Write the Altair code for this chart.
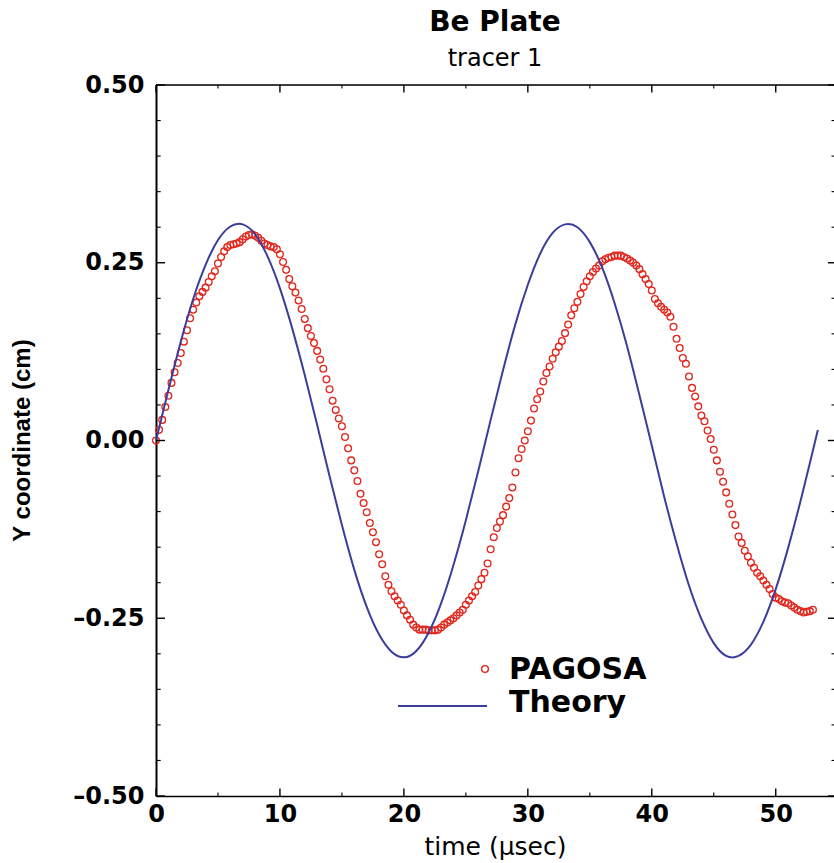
import altair as alt
import pandas as pd

# ---------------- data ----------------
pagosa_t = [
    0.0, 0.25, 0.5, 0.75, 1.0, 1.25, 1.5, 1.75, 2.0, 2.25, 2.5, 2.75,
    3.0, 3.25, 3.5, 3.75, 4.0, 4.25, 4.5, 4.75, 5.0, 5.25, 5.5, 5.75,
    6.0, 6.25, 6.5, 6.75, 7.0, 7.25, 7.5, 7.75, 8.0, 8.25, 8.5, 8.75,
    9.0, 9.25, 9.5, 9.75, 10.0, 10.25, 10.5, 10.75, 11.0, 11.25, 11.5, 11.75,
    12.0, 12.25, 12.5, 12.75, 13.0, 13.25, 13.5, 13.75, 14.0, 14.25, 14.5, 14.75,
    15.0, 15.25, 15.5, 15.75, 16.0, 16.25, 16.5, 16.75, 17.0, 17.25, 17.5, 17.75,
    18.0, 18.25, 18.5, 18.75, 19.0, 19.25, 19.5, 19.75, 20.0, 20.25, 20.5, 20.75,
    21.0, 21.25, 21.5, 21.75, 22.0, 22.25, 22.5, 22.75, 23.0, 23.25, 23.5, 23.75,
    24.0, 24.25, 24.5, 24.75, 25.0, 25.25, 25.5, 25.75, 26.0, 26.25, 26.5, 26.75,
    27.0, 27.25, 27.5, 27.75, 28.0, 28.25, 28.5, 28.75, 29.0, 29.25, 29.5, 29.75,
    30.0, 30.25, 30.5, 30.75, 31.0, 31.25, 31.5, 31.75, 32.0, 32.25, 32.5, 32.75,
    33.0, 33.25, 33.5, 33.75, 34.0, 34.25, 34.5, 34.75, 35.0, 35.25, 35.5, 35.75,
    36.0, 36.25, 36.5, 36.75, 37.0, 37.25, 37.5, 37.75, 38.0, 38.25, 38.5, 38.75,
    39.0, 39.25, 39.5, 39.75, 40.0, 40.25, 40.5, 40.75, 41.0, 41.25, 41.5, 41.75,
    42.0, 42.25, 42.5, 42.75, 43.0, 43.25, 43.5, 43.75, 44.0, 44.25, 44.5, 44.75,
    45.0, 45.25, 45.5, 45.75, 46.0, 46.25, 46.5, 46.75, 47.0, 47.25, 47.5, 47.75,
    48.0, 48.25, 48.5, 48.75, 49.0, 49.25, 49.5, 49.75, 50.0, 50.25, 50.5, 50.75,
    51.0, 51.25, 51.5, 51.75, 52.0, 52.25, 52.5, 52.75, 53.0,
]
pagosa_y = [
    0.000, 0.015, 0.029, 0.047, 0.063, 0.081, 0.096, 0.109, 0.123, 0.139, 0.155, 0.172,
    0.184, 0.194, 0.203, 0.209, 0.215, 0.223, 0.231, 0.238, 0.249, 0.258, 0.266, 0.272,
    0.275, 0.276, 0.277, 0.279, 0.283, 0.287, 0.289, 0.290, 0.288, 0.285, 0.281, 0.277,
    0.275, 0.273, 0.272, 0.269, 0.262, 0.251, 0.240, 0.227, 0.217, 0.208, 0.197, 0.185,
    0.171, 0.158, 0.147, 0.137, 0.126, 0.114, 0.101, 0.086, 0.072, 0.056, 0.043, 0.031,
    0.020, 0.005, -0.011, -0.028, -0.042, -0.057, -0.075, -0.088, -0.101, -0.116, -0.129, -0.143,
    -0.160, -0.174, -0.191, -0.203, -0.212, -0.219, -0.225, -0.231, -0.239, -0.246, -0.252, -0.259,
    -0.263, -0.266, -0.266, -0.266, -0.267, -0.267, -0.267, -0.266, -0.263, -0.259, -0.256, -0.253,
    -0.250, -0.246, -0.242, -0.238, -0.231, -0.225, -0.219, -0.213, -0.204, -0.195, -0.186, -0.173,
    -0.153, -0.136, -0.123, -0.114, -0.105, -0.093, -0.081, -0.066, -0.045, -0.025, -0.012, 0.000,
    0.013, 0.028, 0.045, 0.058, 0.069, 0.083, 0.095, 0.104, 0.115, 0.124, 0.132, 0.140,
    0.151, 0.163, 0.176, 0.186, 0.195, 0.206, 0.216, 0.224, 0.231, 0.237, 0.242, 0.246,
    0.252, 0.255, 0.257, 0.258, 0.260, 0.260, 0.260, 0.258, 0.256, 0.253, 0.250, 0.246,
    0.241, 0.234, 0.227, 0.220, 0.211, 0.199, 0.193, 0.188, 0.184, 0.180, 0.174, 0.160,
    0.143, 0.130, 0.116, 0.108, 0.090, 0.074, 0.062, 0.048, 0.035, 0.027, 0.014, 0.002,
    -0.013, -0.028, -0.044, -0.058, -0.073, -0.089, -0.104, -0.119, -0.135, -0.144, -0.155, -0.163,
    -0.172, -0.179, -0.186, -0.191, -0.197, -0.203, -0.209, -0.216, -0.221, -0.223, -0.226, -0.228,
    -0.229, -0.232, -0.235, -0.238, -0.240, -0.242, -0.241, -0.240, -0.238,
]

theory_t = [
    0, 1, 2, 3, 4, 5, 6, 7, 8, 9, 10, 11, 12, 13, 14, 15, 16, 17, 18, 19,
    20, 21, 22, 23, 24, 25, 26, 27, 28, 29, 30, 31, 32, 33, 34, 35, 36, 37, 38, 39,
    40, 41, 42, 43, 44, 45, 46, 47, 48, 49, 50, 51, 52, 53, 53.4,
]
theory_y = [
    0.000, 0.071, 0.139, 0.199, 0.247, 0.282, 0.301, 0.304, 0.290, 0.259,
    0.214, 0.157, 0.092, 0.022, -0.050, -0.119, -0.182, -0.234, -0.273, -0.297,
    -0.305, -0.296, -0.270, -0.229, -0.175, -0.112, -0.043, 0.029, 0.099, 0.164,
    0.219, 0.263, 0.292, 0.304, 0.300, 0.279, 0.243, 0.193, 0.133, 0.064,
    -0.007, -0.079, -0.145, -0.204, -0.251, -0.285, -0.303, -0.303, -0.287, -0.255,
    -0.209, -0.151, -0.085, -0.014, 0.015,
]

x_major = [0, 10, 20, 30, 40, 50]
x_minor = [5, 15, 25, 35, 45]
y_major = [-0.5, -0.25, 0.0, 0.25, 0.5]
y_minor = [-0.45, -0.4, -0.35, -0.3, -0.2, -0.15, -0.1, -0.05,
           0.05, 0.1, 0.15, 0.2, 0.3, 0.35, 0.4, 0.45]

series_names = ["PAGOSA", "Theory"]

# ---------------- style ----------------
W, H = 678, 711
RED = "#e2261c"
BLUE = "#3b3d9c"
BOLD_FONT = "DejaVu Sans"

x_scale = alt.Scale(domain=[0, 54.7], nice=False, zero=False)
y_scale = alt.Scale(domain=[-0.5, 0.5], nice=False, zero=False)

pag_df = pd.DataFrame({"t": pagosa_t, "y": pagosa_y})
th_df = pd.DataFrame({"t": theory_t, "y": theory_y})

x_axis = alt.Axis(
    values=x_major, format="d", title="time (μsec)", ticks=False, grid=False,
    domain=True, domainColor="black", domainWidth=1.6,
    labelFont=BOLD_FONT, labelFontWeight="bold", labelFontSize=24, labelColor="black",
    labelPadding=6, labelFlush=False,
    titleFont=BOLD_FONT, titleFontWeight="normal", titleFontSize=25, titleColor="black",
    titlePadding=8,
)
y_axis = alt.Axis(
    values=y_major, title="Y coordinate (cm)", ticks=False, grid=False,
    domain=True, domainColor="black", domainWidth=2,
    labelExpr="datum.value < 0 ? '–' + format(-datum.value, '.2f') : format(datum.value, '.2f')",
    labelFont=BOLD_FONT, labelFontWeight="bold", labelFontSize=24, labelColor="black",
    labelPadding=12, labelFlush=False,
    titleFont="Liberation Sans", titleFontWeight="bold", titleFontSize=24, titleColor="black",
    titleAngle=270, titleX=-134, titleY=355, titleAlign="center", titleBaseline="middle",
)

X = alt.X("t:Q", scale=x_scale, axis=x_axis)
Y = alt.Y("y:Q", scale=y_scale, axis=y_axis)

pagosa = alt.Chart(pag_df).mark_point(
    shape="circle", filled=False, color=RED, strokeWidth=1.3, size=46, opacity=1
).encode(x=X, y=Y)

theory = alt.Chart(th_df).mark_line(
    color=BLUE, strokeWidth=2, interpolate="natural"
).encode(x=X, y=Y)

# ---- inward ticks ----
def xticks(vals, y0, y1, sw):
    return alt.Chart(pd.DataFrame({"t": vals})).mark_rule(color="black", strokeWidth=sw).encode(
        x=X, y=alt.value(y0), y2=alt.value(y1))

def yticks(vals, x0, x1, sw):
    return alt.Chart(pd.DataFrame({"y": vals})).mark_rule(color="black", strokeWidth=sw).encode(
        y=Y, x=alt.value(x0), x2=alt.value(x1))

tick_layers = [
    xticks(x_major, H, H - 7.5, 1.4), xticks(x_minor, H, H - 3.5, 1.1),
    xticks(x_major, 0, 7.5, 1.4), xticks(x_minor, 0, 3.5, 1.1),
    yticks(y_major, 0, 9, 1.4), yticks(y_minor, 0, 4.7, 1.1),
    yticks(y_major, W, W - 6, 1.4), yticks(y_minor, W, W - 2.5, 1.1),
]

top_line = alt.Chart(pd.DataFrame({"a": [0]})).mark_rule(color="black", strokeWidth=1.6).encode(
    x=alt.value(0), x2=alt.value(W), y=alt.value(0))

# ---- legend ----
leg_p = pd.DataFrame({"label": [series_names[0]]})
leg_t = pd.DataFrame({"label": [series_names[1]]})
leg_point = alt.Chart(leg_p).mark_point(
    shape="circle", filled=False, color=RED, strokeWidth=1.4, size=46, opacity=1
).encode(x=alt.value(329), y=alt.value(584))
leg_text1 = alt.Chart(leg_p).mark_text(
    align="left", baseline="alphabetic", font=BOLD_FONT, fontWeight="bold", fontSize=30, color="black"
).encode(x=alt.value(353), y=alt.value(594), text="label:N")
leg_line = alt.Chart(leg_t).mark_rule(color=BLUE, strokeWidth=2).encode(
    x=alt.value(242), x2=alt.value(331), y=alt.value(621))
leg_text2 = alt.Chart(leg_t).mark_text(
    align="left", baseline="alphabetic", font=BOLD_FONT, fontWeight="bold", fontSize=30, color="black"
).encode(x=alt.value(353), y=alt.value(627), text="label:N")

chart = alt.layer(
    pagosa, theory, *tick_layers, top_line, leg_point, leg_text1, leg_line, leg_text2
).properties(
    width=W, height=H,
    title=alt.TitleParams(
        "Be Plate", subtitle="tracer 1", anchor="middle", frame="group",
        font=BOLD_FONT, fontSize=28, fontWeight="bold", color="black",
        subtitleFont=BOLD_FONT, subtitleFontSize=24, subtitleColor="black",
        subtitlePadding=10, offset=2,
    ),
    padding={"left": 156, "top": 85, "right": 0, "bottom": 67},
    autosize=alt.AutoSizeParams(type="none"),
).configure_view(stroke=None).configure(background="white")

chart.save("out.html", embed_options={"renderer": "svg", "actions": False})
